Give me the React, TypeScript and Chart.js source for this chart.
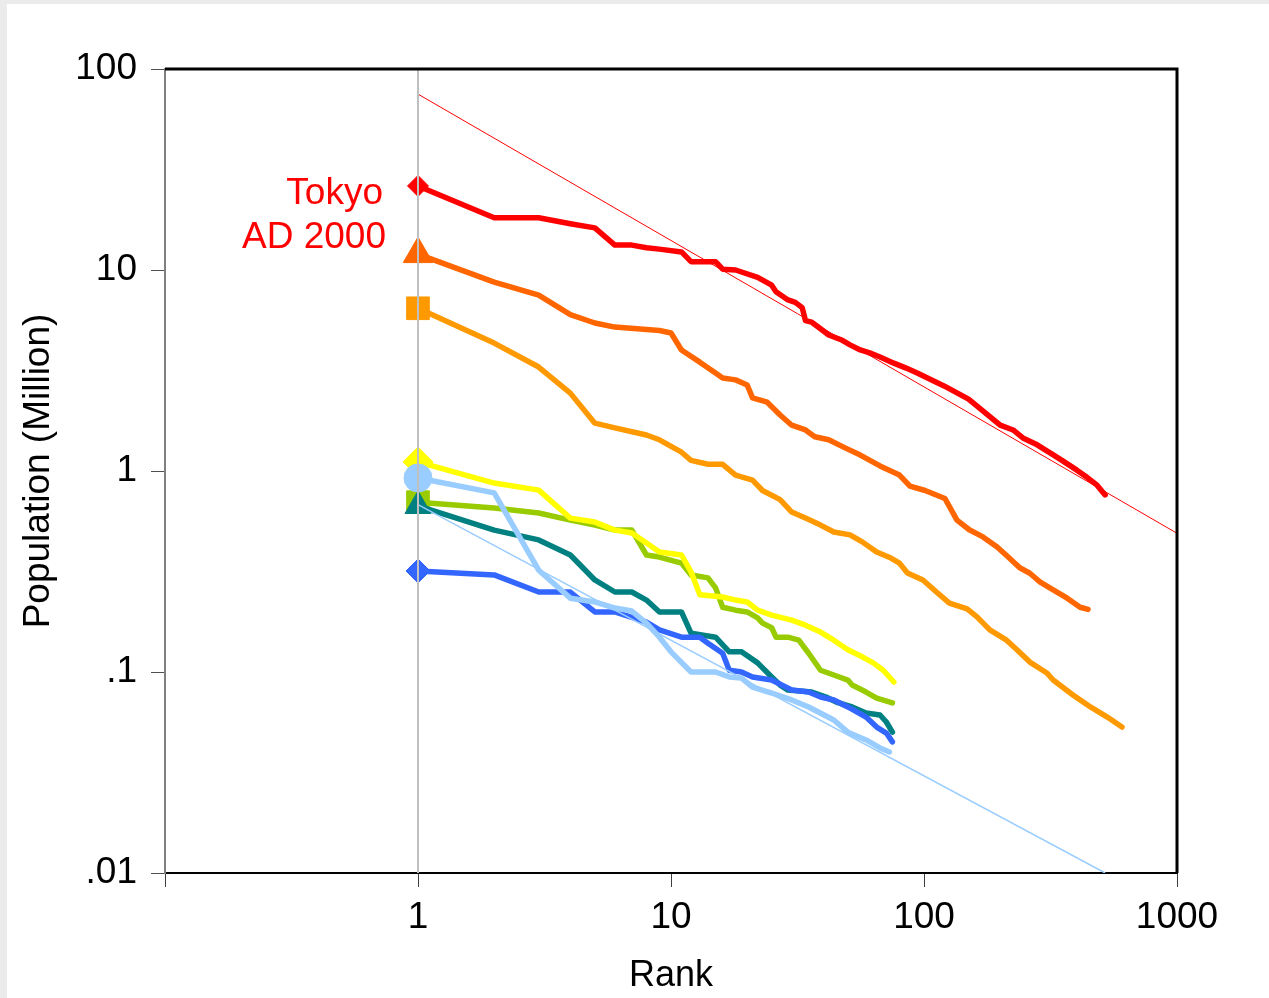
import React, { useEffect, useRef } from 'react';
import { Chart, registerables } from 'chart.js';
Chart.register(...registerables);

const FONT = "'Liberation Sans', Arial, Helvetica, sans-serif";

// Tick values and labels
const xTickValues = [0.1, 1, 10, 100, 1000];
const xTickLabels = ['', '1', '10', '100', '1000'];
const yTickValues = [0.01, 0.1, 1, 10, 100];
const yTickLabels = ['.01', '.1', '1', '10', '100'];

const xTitle = 'Rank';
const yTitle = 'Population (Million)';
const annotationLines = ['Tokyo', 'AD 2000'];

// Series (rank, population in million)
const redRank = [1, 2, 3, 4, 5, 6, 7, 8, 9, 11, 12, 15, 16, 18, 22, 25, 26, 29, 31, 33, 34, 36, 39, 42, 47, 51, 56, 61, 67, 76, 85, 94, 120, 150, 200, 225, 246, 280, 315, 351, 402, 441, 483, 520];
const redPop = [26.2, 18.2, 18.2, 17.0, 16.2, 13.3, 13.3, 12.9, 12.7, 12.3, 11.0, 11.0, 10.1, 10.0, 9.2, 8.4, 7.8, 7.1, 6.9, 6.5, 5.6, 5.5, 5.1, 4.75, 4.5, 4.24, 4.0, 3.87, 3.69, 3.44, 3.25, 3.07, 2.65, 2.28, 1.69, 1.60, 1.46, 1.35, 1.23, 1.13, 1.01, 0.93, 0.85, 0.76];

const darkOrangeRank = [1, 2, 3, 4, 5, 6, 9, 10, 11, 13, 15, 16, 18, 20, 21, 24, 27, 30, 34, 37, 42, 49, 56, 67, 80, 88, 101, 121, 135, 151, 171, 194, 212, 239, 262, 288, 324, 368, 414, 445];
const darkOrangePop = [12.0, 8.7, 7.5, 6.0, 5.45, 5.2, 5.0, 4.86, 4.0, 3.48, 3.07, 2.9, 2.84, 2.68, 2.31, 2.2, 1.9, 1.69, 1.6, 1.48, 1.43, 1.3, 1.2, 1.06, 0.955, 0.84, 0.80, 0.73, 0.57, 0.51, 0.47, 0.42, 0.38, 0.33, 0.31, 0.28, 0.256, 0.233, 0.21, 0.205];

const orangeRank = [1, 2, 3, 4, 5, 6, 8, 9, 11, 12, 14, 16, 18, 21, 23, 27, 30, 34, 39, 44, 51, 57, 65, 74, 80, 86, 99, 112, 126, 148, 162, 182, 212, 233, 262, 306, 324, 388, 455, 530, 606];
const orangePop = [6.45, 4.33, 3.29, 2.44, 1.73, 1.64, 1.51, 1.43, 1.24, 1.13, 1.08, 1.08, 0.954, 0.90, 0.80, 0.72, 0.625, 0.583, 0.538, 0.497, 0.481, 0.444, 0.395, 0.369, 0.348, 0.311, 0.287, 0.250, 0.220, 0.206, 0.188, 0.162, 0.144, 0.129, 0.112, 0.0989, 0.0912, 0.0769, 0.067, 0.0597, 0.0532];

const yellowRank = [1, 2, 3, 4, 5, 6, 7, 8, 9, 11, 12, 13, 16, 18, 20, 22, 25, 30, 34, 39, 44, 50, 57, 63, 69, 76];
const yellowPop = [1.11, 0.871, 0.803, 0.583, 0.557, 0.508, 0.492, 0.438, 0.395, 0.382, 0.315, 0.242, 0.236, 0.228, 0.223, 0.203, 0.192, 0.181, 0.171, 0.158, 0.144, 0.129, 0.119, 0.111, 0.102, 0.0892];

const greenRank = [1, 2, 3, 4, 5, 6, 7, 8, 9, 11, 12, 14, 15, 16, 18, 20, 22, 23, 25, 26, 29, 32, 35, 39, 44, 50, 52, 59, 65, 75];
const greenPop = [0.70, 0.654, 0.618, 0.570, 0.538, 0.508, 0.508, 0.382, 0.373, 0.348, 0.304, 0.294, 0.262, 0.210, 0.203, 0.199, 0.186, 0.175, 0.166, 0.149, 0.149, 0.144, 0.124, 0.102, 0.0966, 0.0912, 0.0861, 0.0795, 0.0742, 0.0702];

const tealRank = [1, 2, 3, 4, 5, 6, 7, 8, 9, 11, 12, 15, 17, 19, 22, 25, 27, 29, 36, 41, 45, 52, 59, 67, 71, 75];
const tealPop = [0.67, 0.508, 0.454, 0.382, 0.287, 0.250, 0.250, 0.228, 0.199, 0.199, 0.156, 0.149, 0.126, 0.126, 0.111, 0.0945, 0.0861, 0.0813, 0.0795, 0.0751, 0.0709, 0.0670, 0.0625, 0.0611, 0.0564, 0.0502];

const blueRank = [1, 2, 3, 4, 5, 6, 8, 9, 11, 13, 14, 16, 17, 19, 21, 25, 30, 35, 39, 44, 50, 59, 65, 71, 75];
const bluePop = [0.318, 0.304, 0.250, 0.250, 0.199, 0.199, 0.177, 0.162, 0.149, 0.149, 0.139, 0.124, 0.102, 0.100, 0.0945, 0.0912, 0.0813, 0.0795, 0.0751, 0.0726, 0.0670, 0.0597, 0.0532, 0.0497, 0.0449];

const lightBlueRank = [1, 2, 3, 4, 5, 6, 7, 8, 9, 10, 12, 15, 17, 19, 21, 25, 30, 35, 44, 50, 59, 67, 73];
const lightBluePop = [0.923, 0.778, 0.321, 0.233, 0.223, 0.208, 0.201, 0.175, 0.149, 0.126, 0.100, 0.100, 0.0945, 0.0933, 0.0842, 0.0786, 0.0726, 0.0670, 0.0577, 0.0502, 0.0459, 0.0419, 0.0400];

// Reference (fit) lines
const redFitRank = [1, 1000];
const redFitPop = [75, 0.49];
const lightBlueFitRank = [1, 520];
const lightBlueFitPop = [0.68, 0.01];
const rankOneRank = [1, 1];
const rankOnePop = [100, 0.01];

export default function App() {
  const ref = useRef<HTMLCanvasElement>(null);

  useEffect(() => {
    document.body.style.margin = '0';
    document.body.style.background = '#ebebeb';
    const canvas = ref.current!;
    const mk = (r: number[], v: number[]) => r.map((x, i) => ({ x, y: v[i] }));

    const series = (label: string, r: number[], v: number[], color: string, style: string, radius: number) => ({
      label,
      data: mk(r, v),
      showLine: true,
      borderColor: color,
      backgroundColor: color,
      borderWidth: 5.5,
      borderJoinStyle: 'round',
      borderCapStyle: 'round',
      tension: 0,
      pointStyle: style,
      pointRadius: (c: any) => (c.dataIndex === 0 ? radius : 0),
      pointHoverRadius: 0,
      pointBorderWidth: 1,
      pointBorderColor: color,
      pointBackgroundColor: color,
    });

    const thin = (label: string, r: number[], v: number[], color: string, w: number) => ({
      label,
      data: mk(r, v),
      showLine: true,
      borderColor: color,
      backgroundColor: color,
      borderWidth: w,
      pointRadius: 0,
      pointHoverRadius: 0,
      tension: 0,
    });

    const framePlugin = {
      id: 'frame',
      afterDraw(chart: any) {
        const { ctx, chartArea: a } = chart;
        ctx.save();
        ctx.strokeStyle = '#000';
        ctx.lineWidth = 3;
        ctx.beginPath();
        ctx.moveTo(a.left, a.top);
        ctx.lineTo(a.right, a.top);
        ctx.lineTo(a.right, a.bottom);
        ctx.stroke();
        ctx.restore();
      },
    };

    const labelPlugin = {
      id: 'tokyoLabel',
      afterDatasetsDraw(chart: any) {
        const { ctx, scales } = chart;
        const px = scales.x.getPixelForValue(1);
        const py = scales.y.getPixelForValue(redPop[0]);
        ctx.save();
        ctx.font = `37px ${FONT}`;
        ctx.fillStyle = '#ff0000';
        ctx.textAlign = 'right';
        ctx.textBaseline = 'alphabetic';
        ctx.fillText(annotationLines[0], px - 35, py + 18);
        ctx.fillText(annotationLines[1], px - 32, py + 62);
        ctx.restore();
      },
    };

    const chart = new Chart(canvas, {
      type: 'scatter',
      data: {
        datasets: [
          thin('rank1', rankOneRank, rankOnePop, '#c0c0c0', 2),
          thin('redFit', redFitRank, redFitPop, '#ff0000', 1),
          thin('lightBlueFit', lightBlueFitRank, lightBlueFitPop, '#99ccff', 1.5),
          series('lightblue', lightBlueRank, lightBluePop, '#99ccff', 'circle', 14),
          series('blue', blueRank, bluePop, '#3366ff', 'rectRot', 12),
          series('teal', tealRank, tealPop, '#008080', 'triangle', 15),
          series('yellow', yellowRank, yellowPop, '#ffff00', 'rectRot', 15),
          series('green', greenRank, greenPop, '#99cc00', 'rect', 16),
          series('orange', orangeRank, orangePop, '#ff9900', 'rect', 16),
          series('darkorange', darkOrangeRank, darkOrangePop, '#ff6600', 'triangle', 17),
          series('Tokyo AD 2000', redRank, redPop, '#ff0000', 'rectRot', 10.5),
        ] as any,
      },
      options: {
        animation: false,
        responsive: false,
        events: [],
        layout: { padding: { left: 0, top: 65, right: 92, bottom: 0 } },
        plugins: { legend: { display: false }, tooltip: { enabled: false } },
        scales: {
          x: {
            type: 'logarithmic',
            min: 0.1,
            max: 1000,
            afterBuildTicks: (s: any) => {
              s.ticks = xTickValues.map((v) => ({ value: v }));
            },
            afterFit: (s: any) => {
              s.height = 125;
            },
            ticks: {
              autoSkip: false,
              maxRotation: 0,
              padding: 9,
              color: '#000',
              font: { family: FONT, size: 37 },
              callback: (v: any) => {
                const i = xTickValues.findIndex((t) => Math.abs(t - v) < 1e-9 * Math.max(1, t));
                return i >= 0 ? xTickLabels[i] : '';
              },
            },
            grid: { drawOnChartArea: false, drawTicks: true, tickLength: 14, color: '#404040', lineWidth: 1 },
            border: { color: '#000', width: 2 },
            title: { display: true, text: xTitle, color: '#000', font: { family: FONT, size: 36 }, padding: 0 },
          },
          y: {
            type: 'logarithmic',
            min: 0.01,
            max: 100,
            afterBuildTicks: (s: any) => {
              s.ticks = yTickValues.map((v) => ({ value: v }));
            },
            afterFit: (s: any) => {
              s.width = 158;
            },
            ticks: {
              autoSkip: false,
              padding: 14,
              color: '#000',
              font: { family: FONT, size: 37 },
              callback: (v: any) => {
                const i = yTickValues.findIndex((t) => Math.abs(t - v) < 1e-6 * t);
                return i >= 0 ? yTickLabels[i] : '';
              },
            },
            grid: { drawOnChartArea: false, drawTicks: true, tickLength: 14, color: '#505050', lineWidth: 1 },
            border: { color: '#808080', width: 2 },
            title: { display: true, text: yTitle, color: '#000', font: { family: FONT, size: 37 }, padding: { top: 10, bottom: 0 } },
          },
        },
      } as any,
      plugins: [framePlugin, labelPlugin],
    });

    return () => chart.destroy();
  }, []);

  return (
    <div style={{ position: 'absolute', left: 7, top: 4, width: 1262, height: 994, background: '#fff' }}>
      <canvas ref={ref} width={1262} height={994} style={{ display: 'block' }} />
    </div>
  );
}
